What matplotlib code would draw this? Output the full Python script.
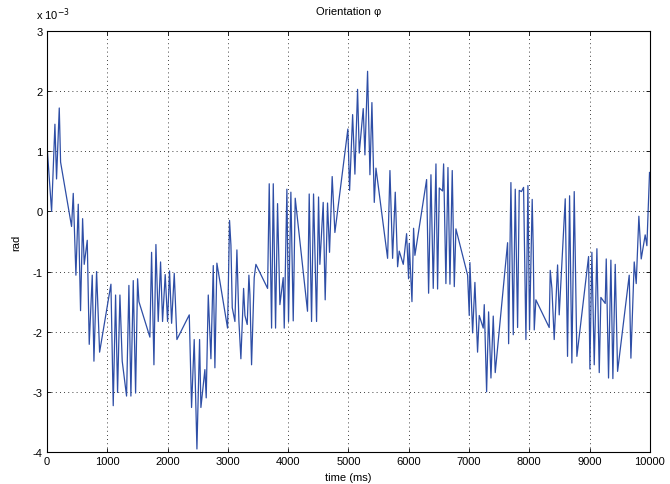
import numpy as np
import matplotlib
matplotlib.use("Agg")
import matplotlib.pyplot as plt

# orientation phi, values in units of 1e-3 rad
time_ms = [
    0, 78, 133, 160, 205, 227, 409, 437, 481, 520, 558, 592, 619, 669, 702, 752, 780, 824, 874,
    1062, 1100, 1139, 1172, 1211, 1249, 1321, 1360, 1393, 1432, 1471, 1504, 1526, 1708, 1736,
    1775, 1808, 1846, 1885, 1918, 1962, 2001, 2034, 2068, 2112, 2156, 2361, 2399, 2443, 2488,
    2532, 2554, 2620, 2642, 2676, 2720, 2759, 2786, 2819, 2996, 3029, 3052, 3074, 3118, 3151,
    3184, 3217, 3262, 3284, 3322, 3350, 3367, 3394, 3438, 3466, 3660, 3687, 3726, 3754, 3792,
    3825, 3864, 3919, 3936, 3980, 4007, 4046, 4085, 4118, 4322, 4350, 4389, 4422, 4472, 4505,
    4527, 4582, 4615, 4654, 4687, 4731, 4776, 4991, 5020, 5070, 5108, 5152, 5180, 5246, 5274,
    5318, 5357, 5390, 5429, 5457, 5650, 5689, 5733, 5777, 5816, 5843, 5910, 5965, 5998, 6009,
    6054, 6081, 6103, 6297, 6330, 6369, 6407, 6452, 6479, 6507, 6562, 6579, 6617, 6651, 6684,
    6722, 6756, 6783, 6977, 7004, 7015, 7060, 7098, 7142, 7170, 7236, 7253, 7292, 7325, 7364,
    7402, 7435, 7640, 7657, 7695, 7734, 7767, 7806, 7833, 7870, 7905, 7944, 7977, 8004, 8048,
    8065, 8082, 8109, 8330, 8347, 8375, 8413, 8469, 8496, 8596, 8634, 8668, 8706, 8745, 8789,
    8983, 9005, 9038, 9077, 9121, 9160, 9187, 9259, 9276, 9314, 9353, 9386, 9425, 9464, 9657,
    9685, 9740, 9773, 9817, 9856, 9922, 9950, 9994, 10000,
]
phi_e3 = [
    1.12, 0.0, 1.45, 0.54, 1.72, 0.82, -0.25, 0.3, -1.06, 0.12, -1.65, -0.12, -0.88, -0.48, -2.21, -1.06, -2.49, -1.0, -2.34,
    -1.21, -3.23, -1.39, -3.01, -1.39, -2.49, -3.07, -1.23, -3.07, -1.15, -3.02, -1.12, -1.5, -2.09, -0.68,
    -2.55, -0.55, -1.83, -0.84, -1.83, -1.05, -1.83, -0.99, -1.86, -1.03, -2.13, -1.72, -3.26, -2.13, -3.95,
    -2.13, -3.26, -2.63, -3.1, -1.39, -2.45, -0.9, -2.6, -0.86, -1.94, -0.15, -0.56, -1.6, -1.83, -0.64,
    -1.82, -2.45, -1.28, -1.73, -1.88, -1.06, -1.39, -2.55, -1.1, -0.88, -1.28, 0.46, -1.94, 0.46, -1.94,
    0.13, -1.55, -1.1, -1.94, 0.37, -1.83, 0.32, -1.82, 0.22, -1.66, 0.29, -1.83, 0.29, -1.83, 0.24,
    -0.88, 0.15, -1.47, 0.14, -0.68, 0.58, -0.35, 1.37, 0.35, 1.61, 0.62, 2.03, 0.97, 1.71, 0.94,
    2.33, 0.61, 1.81, 0.15, 0.72, -0.78, 0.68, -0.78, 0.32, -0.92, -0.66, -0.88, -0.37, -1.12, -0.53,
    -1.5, -0.28, -0.73, 0.53, -1.36, 0.61, -1.28, 0.79, -1.29, 0.39, 0.34, 0.79, -1.2, 0.73, -1.21,
    0.68, -1.25, -0.29, -1.06, -1.73, -0.85, -2.02, -1.18, -2.34, -1.73, -1.94, -1.55, -3.0, -1.67, -2.77,
    -1.74, -2.68, -0.52, -2.2, 0.48, -2.05, 0.37, -1.93, 0.35, 0.33, 0.4, -2.13, 0.43, -1.97, 0.2,
    -0.6, -1.97, -1.47, -1.93, -0.98, -1.28, -2.13, -0.89, -1.72, 0.21, -2.41, 0.26, -2.52, 0.33, -2.41,
    -0.75, -2.62, -0.68, -2.55, -0.62, -2.68, -1.43, -1.53, -0.79, -2.77, -0.81, -2.78, -0.88, -2.66, -1.06,
    -2.44, -0.84, -1.2, -0.08, -0.79, -0.39, -0.57, 0.65, 0.6,
]
x_ticks = list(range(0, 10001, 1000))
y_ticks = [-4, -3, -2, -1, 0, 1, 2, 3]

plt.rcParams['font.family'] = ['Liberation Sans', 'DejaVu Sans']
plt.rcParams['font.size'] = 8
plt.rcParams['axes.unicode_minus'] = False

fig = plt.figure(figsize=(6.7, 4.85), dpi=100)
ax = fig.add_axes([0.070, 0.066, 0.900, 0.868])

ax.plot(time_ms, phi_e3, color='#2e4ea6', linewidth=0.9)

ax.set_xlim(0, 10000)
ax.set_ylim(-4, 3)
ax.set_xticks(x_ticks)
ax.set_yticks(y_ticks)
ax.grid(True, linestyle=(0, (1, 4)), color='black', linewidth=0.6)
ax.tick_params(direction='in', length=3, width=0.6, top=True, right=True, pad=3)
for s in ax.spines.values():
    s.set_linewidth(0.8)

ax.set_title('Orientation φ', fontsize=8, pad=12)
ax.set_xlabel('time (ms)', fontsize=8, labelpad=4)
ax.set_ylabel('rad', fontsize=8, labelpad=8)
fig.text(0.054, 0.970, r'x 10$^{-3}$', fontsize=8, ha='left', va='center')

fig.savefig('out.png', dpi=100)
